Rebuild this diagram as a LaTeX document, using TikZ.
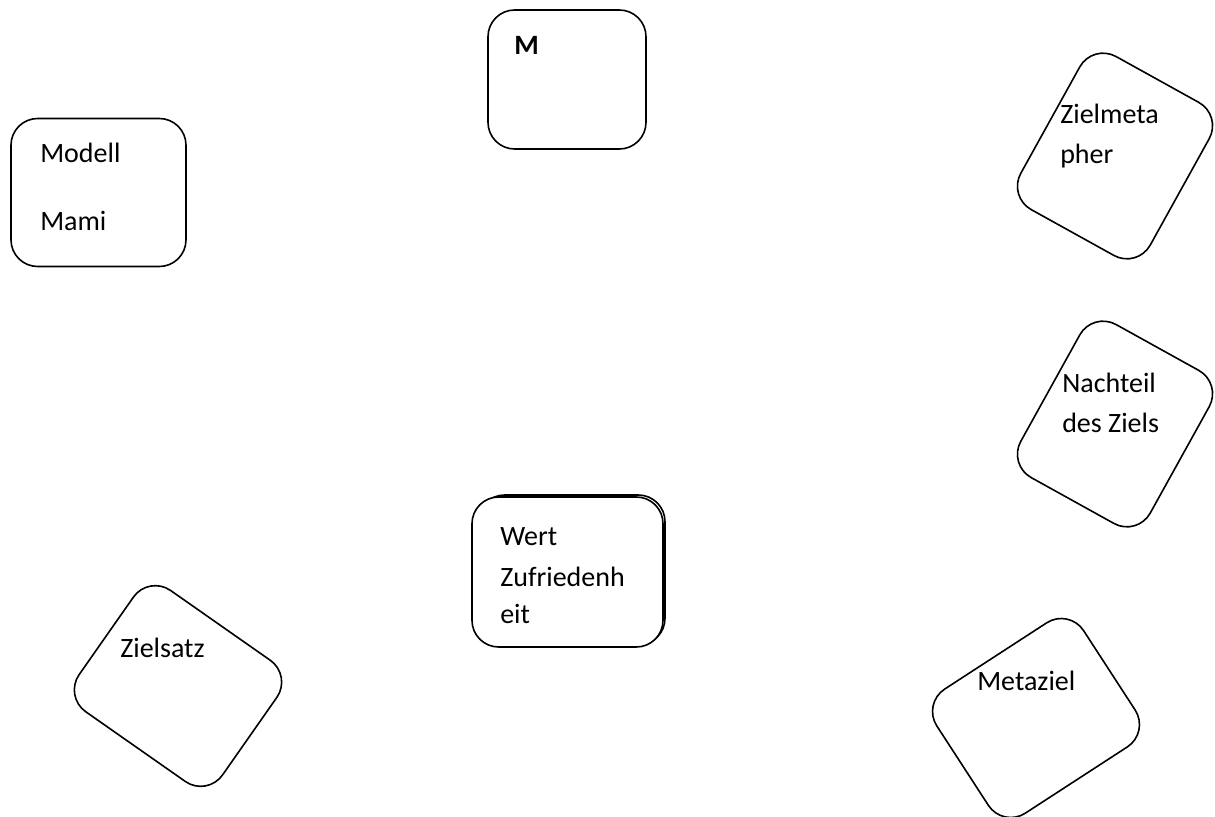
\documentclass[tikz,border=0pt]{standalone}
\usepackage{fontspec}
\setmainfont{Carlito}
\begin{document}
\begin{tikzpicture}[x=0.75pt,y=-0.75pt,
  box/.style={draw=black, line width=1.2pt, rounded corners=20pt, inner sep=0pt,
    minimum width=131.25pt, minimum height=111pt},
  lbl/.style={anchor=base west, inner sep=0pt, font=\fontsize{21}{25}\selectfont}]
\useasboundingbox (0,0) rectangle (1215,817);
% plain boxes
\node[box] (modell) at (98.5,192.5) {};
\node[box, minimum width=118.5pt, minimum height=104.25pt] (m) at (567,79.5) {};
\node[box, minimum width=140.25pt, minimum height=112.5pt] (wert2) at (571.5,570) {};
\node[box, minimum width=143.25pt, minimum height=112.5pt, fill=white] (wert) at (567.5,572) {};
% rotated boxes
\node[box, rotate=-35] (zielsatz) at (178,686) {};
\node[box, rotate=61] (zielmetapher) at (1115,156) {};
\node[box, rotate=61] (nachteil) at (1115,424) {};
\node[box, rotate=33] (metaziel) at (1036,718) {};
% texts
\node[lbl] (t-modell) at (40,162) {Modell};
\node[lbl] (t-mami) at (40,230) {Mami};
\node[lbl, font=\fontsize{21}{25}\selectfont\bfseries] (t-m) at (514,55) {M};
\node[lbl] (t-wert) at (500,545) {Wert};
\node[lbl] (t-zuf) at (500,586) {Zufriedenh};
\node[lbl] (t-eit) at (500,623) {eit};
\node[lbl] (t-zielsatz) at (120,657) {Zielsatz};
\node[lbl] (t-zm1) at (1060,123) {Zielmeta};
\node[lbl] (t-zm2) at (1060,163) {pher};
\node[lbl] (t-n1) at (1062,392) {Nachteil};
\node[lbl] (t-n2) at (1062,432) {des Ziels};
\node[lbl] (t-metaziel) at (977,690) {Metaziel};
\end{tikzpicture}
\end{document}
